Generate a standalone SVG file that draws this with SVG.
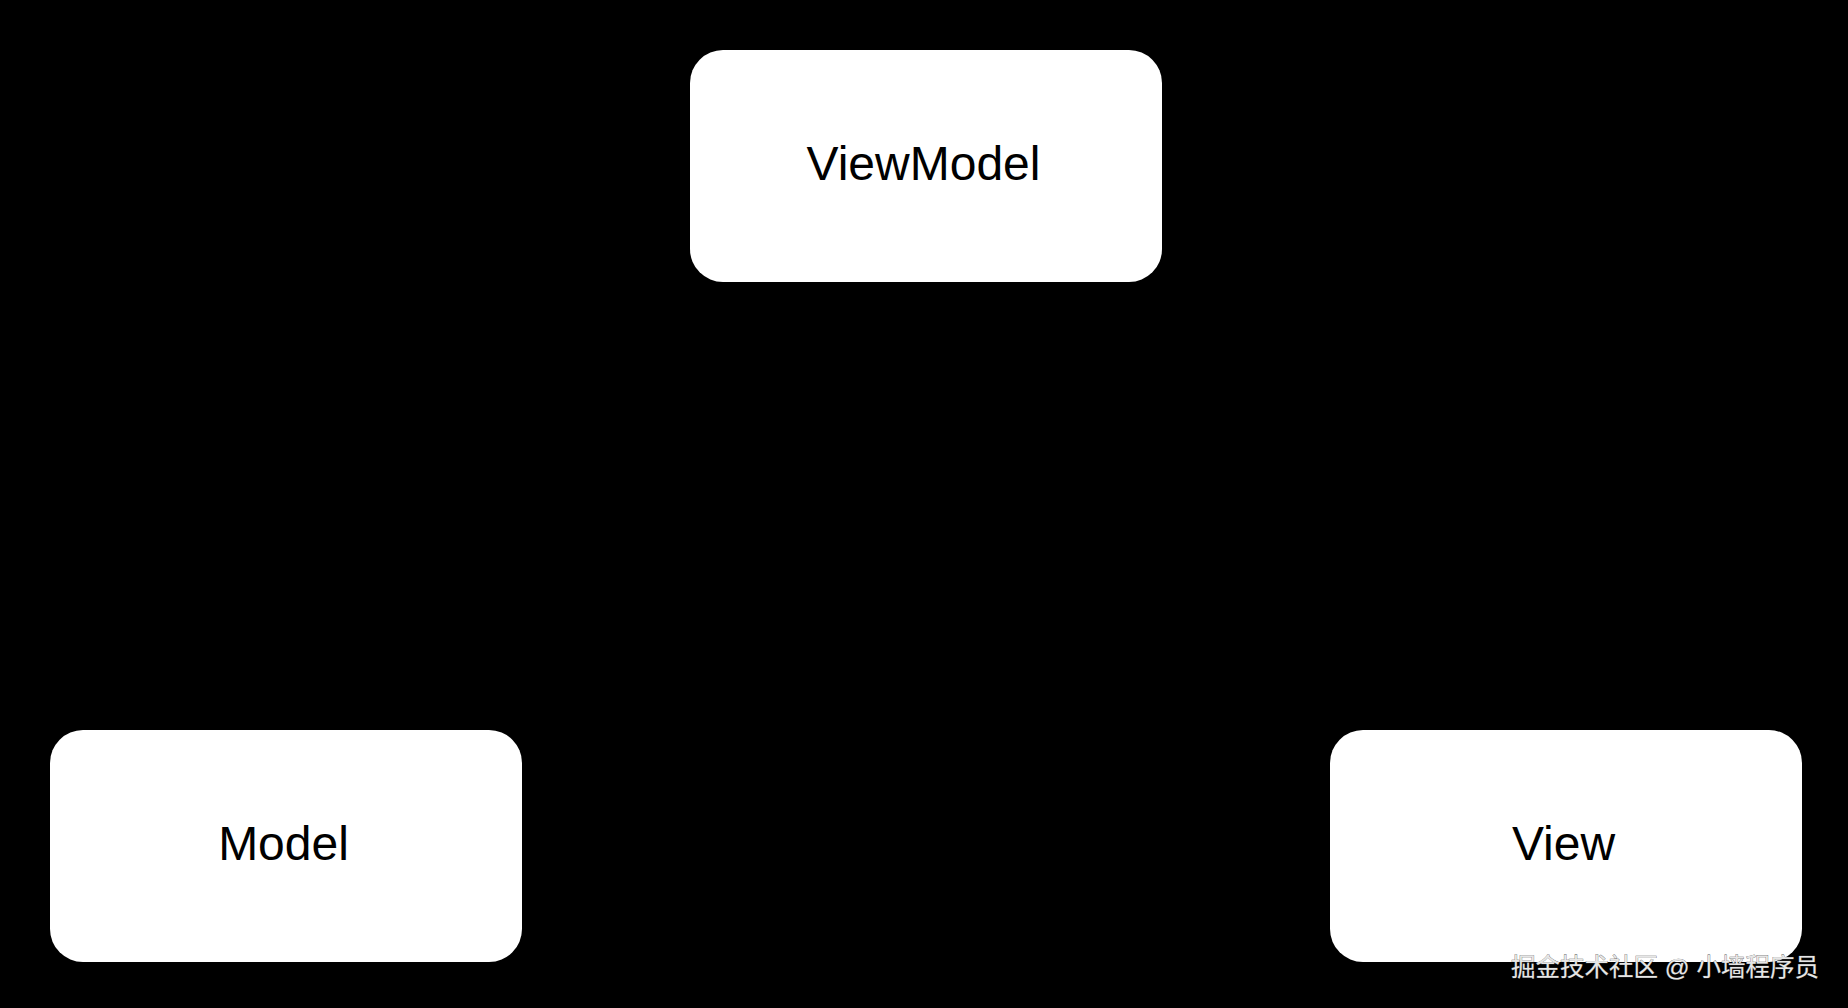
<svg xmlns="http://www.w3.org/2000/svg" width="1848" height="1008" viewBox="0 0 1848 1008">
  <style>
    .node rect { fill: #ffffff; stroke: none; }
    .node text { font-family: "Liberation Sans", Arial, sans-serif; font-size: 48px; fill: #000000; text-anchor: middle; }
    .wm { font-family: "Liberation Sans", "Noto Sans CJK SC", sans-serif; font-size: 24.5px; fill: #e6e6e6; stroke: #555555; stroke-width: 0.6px; paint-order: stroke; text-anchor: end; }
  </style>
  <rect x="0" y="0" width="1848" height="1008" fill="#000000"/>
  <g id="connectors"></g>
  <g id="node-viewmodel" class="node">
    <rect x="690" y="50" width="472" height="232" rx="33" ry="33"/>
    <text x="923.5" y="180">ViewModel</text>
  </g>
  <g id="node-model" class="node">
    <rect x="50" y="730" width="472" height="232" rx="33" ry="33"/>
    <text x="283.5" y="860">Model</text>
  </g>
  <g id="node-view" class="node">
    <rect x="1330" y="730" width="472" height="232" rx="33" ry="33"/>
    <text x="1563.5" y="860">View</text>
  </g>
  <text class="wm" x="1819" y="976">掘金技术社区 @ 小墙程序员</text>
</svg>
